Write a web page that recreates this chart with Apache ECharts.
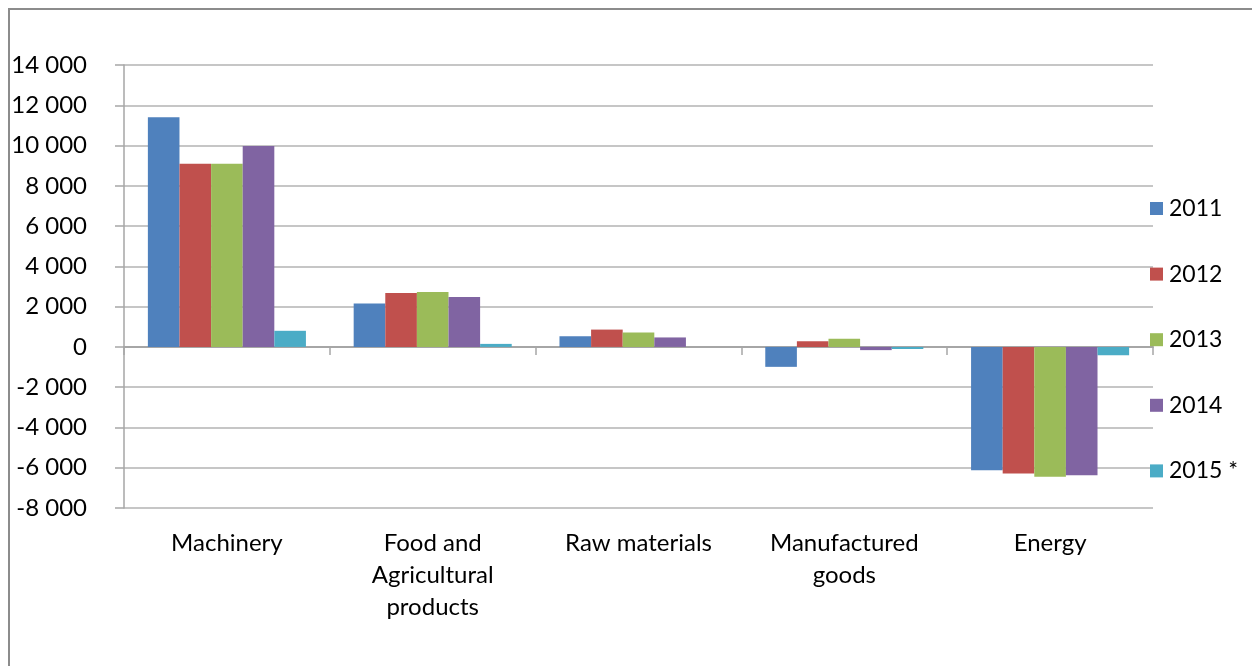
<!DOCTYPE html>
<html>
<head>
<meta charset="utf-8">
<script src="https://cdn.jsdelivr.net/npm/echarts@6/dist/echarts.min.js"></script>
<style>html,body{margin:0;padding:0;background:#fff;}#c{width:1252px;height:666px;}</style>
</head>
<body>
<div id="c"></div>
<script>
var categories = ["Machinery", "Food and\nAgricultural\nproducts", "Raw materials", "Manufactured\ngoods", "Energy"];
var years = ["2011", "2012", "2013", "2014", "2015 *"];
var v2011 = [11400, 2150, 530, -990, -6120];
var v2012 = [9100, 2680, 860, 280, -6290];
var v2013 = [9100, 2730, 720, 400, -6450];
var v2014 = [9980, 2480, 470, -160, -6370];
var v2015 = [800, 150, 0, -100, -410];
var yTicks = { min: -8000, max: 14000, interval: 2000 };

var colors = ["#4F81BD", "#C0504D", "#9BBB59", "#8064A2", "#4BACC6"];
var seriesValues = [v2011, v2012, v2013, v2014, v2015];
var font = "Lato, 'Open Sans', sans-serif";

function fmt(v) {
  var s = Math.abs(v).toString();
  var out = s.replace(/\B(?=(\d{3})+(?!\d))/g, " ");
  return (v < 0 ? "-" : "") + out;
}

var chart = echarts.init(document.getElementById("c"), null, { renderer: "canvas" });
chart.setOption({
  animation: false,
  backgroundColor: "#fff",
  color: colors,
  graphic: [{
    type: "rect",
    shape: { x: 9, y: 9, width: 1400, height: 800 },
    style: { fill: null, stroke: "#8c8c8c", lineWidth: 2 },
    silent: true
  }],
  grid: { left: 124, right: 99, top: 65, bottom: 158, containLabel: false },
  legend: {
    orient: "vertical",
    left: 1145,
    top: 192,
    itemWidth: 13,
    itemHeight: 13,
    itemGap: 42.6,
    icon: "rect",
    textStyle: { fontFamily: font, fontSize: 23, color: "#000", lineHeight: 23, padding: [0, 0, 0, 1] },
    data: years
  },
  xAxis: [{
    type: "category",
    data: categories,
    position: "bottom",
    axisLine: { show: true, onZero: true, lineStyle: { color: "#a6a6a6", width: 2 } },
    axisTick: { show: true, length: 8, alignWithLabel: false, lineStyle: { color: "#a6a6a6", width: 1.5 } },
    axisLabel: { show: false },
    splitLine: { show: false }
  }, {
    type: "category",
    data: categories,
    position: "bottom",
    axisLine: { show: false, onZero: false },
    axisTick: { show: false },
    axisLabel: { interval: 0, fontFamily: font, fontSize: 24, color: "#000", lineHeight: 32, margin: 19 },
    splitLine: { show: false }
  }],
  yAxis: {
    type: "value",
    min: yTicks.min,
    max: yTicks.max,
    interval: yTicks.interval,
    axisLine: { show: true, lineStyle: { color: "#a6a6a6", width: 1.5 } },
    axisTick: { show: true, length: 9, lineStyle: { color: "#a6a6a6", width: 1.5 } },
    axisLabel: { fontFamily: font, fontSize: 24, color: "#000", margin: 37, formatter: fmt },
    splitLine: { show: true, lineStyle: { color: "#b3b3b3", width: 1.5 } }
  },
  series: years.map(function (y, i) {
    return {
      name: y,
      type: "bar",
      xAxisIndex: 0,
      data: seriesValues[i],
      barGap: "0%",
      barCategoryGap: "23.2%",
      itemStyle: { color: colors[i] }
    };
  })
});
</script>
</body>
</html>
